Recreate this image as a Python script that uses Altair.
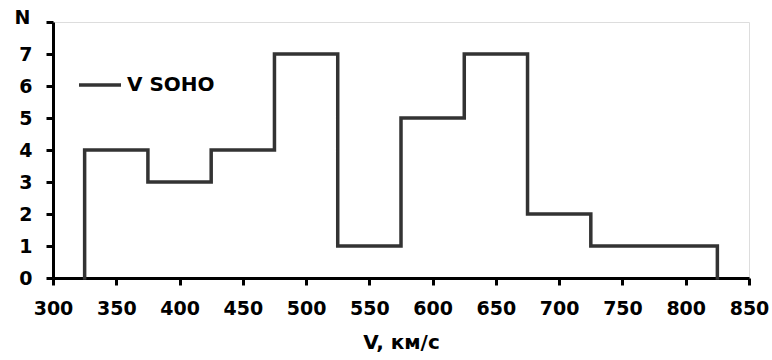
import altair as alt
import pandas as pd

# bin edges (km/s) and counts
edges = [325, 375, 425, 475, 525, 575, 625, 675, 725, 775, 825]
counts = [4, 3, 4, 7, 1, 5, 7, 2, 1, 1]
series_name = "V SOHO"
x_ticks = list(range(300, 851, 50))
y_ticks = list(range(0, 9))

xs, ys = [edges[0]], [0]
for i, c in enumerate(counts):
    xs += [edges[i], edges[i + 1]]
    ys += [c, c]
xs.append(edges[-1])
ys.append(0)
df = pd.DataFrame({"V": xs, "N": ys, "order": list(range(len(xs))), "series": series_name})

FONT = "DejaVu Sans"

chart = alt.Chart(df).mark_line(strokeWidth=3.5, strokeJoin="miter", strokeCap="square").encode(
    x=alt.X("V:Q", scale=alt.Scale(domain=[300, 850], nice=False),
            axis=alt.Axis(values=x_ticks, title="V, км/с",
                          titleFontSize=20, titleFontWeight="bold", titleFont=FONT,
                          titleColor="black", titlePadding=14,
                          labelFont=FONT, labelFontSize=19, labelFontWeight="bold",
                          labelColor="black", labelPadding=14,
                          domainColor="black", domainWidth=3,
                          tickColor="black", tickWidth=3, tickSize=7,
                          grid=False, labelFlush=False)),
    y=alt.Y("N:Q", scale=alt.Scale(domain=[0, 8], nice=False),
            axis=alt.Axis(values=y_ticks, title="N", titleAngle=0,
                          titleX=-31, titleY=1, titleAlign="center",
                          titleBaseline="alphabetic",
                          titleFont=FONT, titleFontSize=19, titleFontWeight="bold",
                          titleColor="black",
                          labelExpr="datum.value == 8 ? '' : datum.label",
                          labelFont=FONT, labelFontSize=19, labelFontWeight="bold",
                          labelColor="black", labelPadding=14,
                          domainColor="black", domainWidth=3,
                          tickColor="black", tickWidth=3, tickSize=7,
                          grid=False)),
    order="order:Q",
    color=alt.Color("series:N", scale=alt.Scale(range=["#333333"]),
                    legend=alt.Legend(orient="none", legendX=24, legendY=40, title=None,
                                      symbolType="stroke", symbolSize=1764,
                                      symbolStrokeWidth=3.5, padding=0,
                                      labelFont=FONT, labelFontSize=20,
                                      labelFontWeight="bold", labelColor="black",
                                      labelOffset=4)),
).properties(
    width=696, height=256,
    autosize=alt.AutoSizeParams(type="none"),
    padding={"left": 53, "top": 22, "right": 23, "bottom": 82},
).configure_view(stroke="#444444", strokeWidth=1.2).configure(background="white")

chart.save("out.html", embed_options={"renderer": "svg", "actions": False})
